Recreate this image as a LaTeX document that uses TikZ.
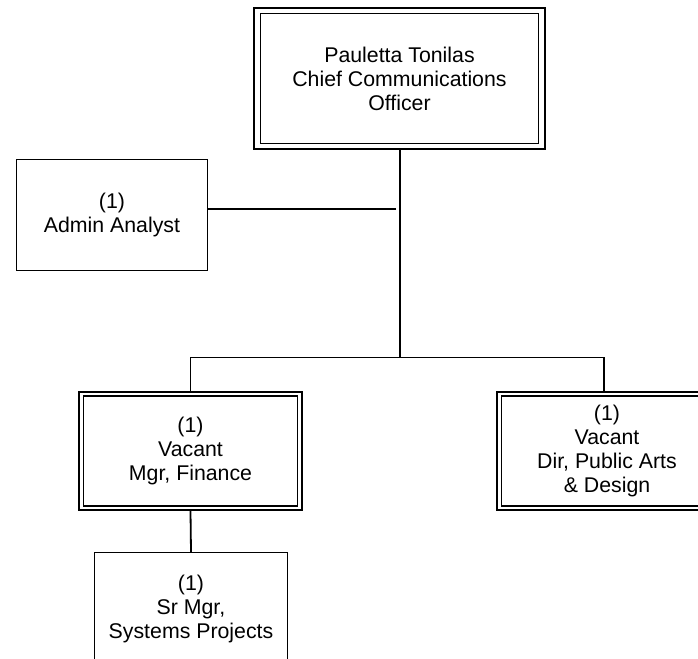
\documentclass[tikz,border=0pt]{standalone}
\usepackage{fontspec}
\setmainfont{Liberation Sans}
\begin{document}
\begin{tikzpicture}[x=1pt,y=-1pt,
  lbl/.style={align=center,font=\fontsize{21.3}{24}\selectfont,inner sep=0pt},
  dblbox/.style={lbl,draw,line width=2.4pt},
  sglbox/.style={lbl,draw,line width=1.4pt},
  innerline/.style={line width=1.2pt},
  conn/.style={line width=1.8pt},
  thinconn/.style={line width=1.1pt}]
\useasboundingbox (0,0) rectangle (698,658);
\clip (0,0) rectangle (698,658);
% nodes
\node[dblbox,minimum width=290.6pt,minimum height=140.6pt] (top) at (399.5,78.5)
  {Pauletta Tonilas\\Chief Communications\\Officer};
\draw[innerline] ([shift={(7.5,6.5)}]top.north west) rectangle ([shift={(-7.5,-6.5)}]top.south east);
\node[sglbox,minimum width=190.6pt,minimum height=110.6pt] (admin) at (112,215)
  {(1)\\Admin Analyst};
\node[dblbox,minimum width=222.6pt,minimum height=117.6pt] (fin) at (190.5,451)
  {(1)\\Vacant\\Mgr, Finance};
\draw[innerline] ([shift={(5.5,5)}]fin.north west) rectangle ([shift={(-5.5,-5)}]fin.south east);
\node[dblbox,minimum width=219.6pt,minimum height=117.6pt] (dir) at (607,451)
  {(1)\\Vacant\\Dir, Public Arts\\\& Design};
\draw[innerline] ([shift={(5.5,5)}]dir.north west) rectangle ([shift={(-5.5,-5)}]dir.south east);
\node[sglbox,minimum width=192.6pt,minimum height=112.6pt] (sr) at (191,609)
  {(1)\\Sr Mgr,\\Systems Projects};
% connectors
\coordinate (bus) at (400,357.5);
\coordinate (aj) at (396,209);
\draw[conn] (top.south -| bus) -- (bus);
\draw[thinconn] (aj) -- (aj -| admin.east);
\draw[conn] (fin.north) |- (bus);
\draw[conn] (bus) -| ([xshift=-3pt]dir.north);
\draw[conn] (fin.south) -- (sr.north);
\end{tikzpicture}
\end{document}
